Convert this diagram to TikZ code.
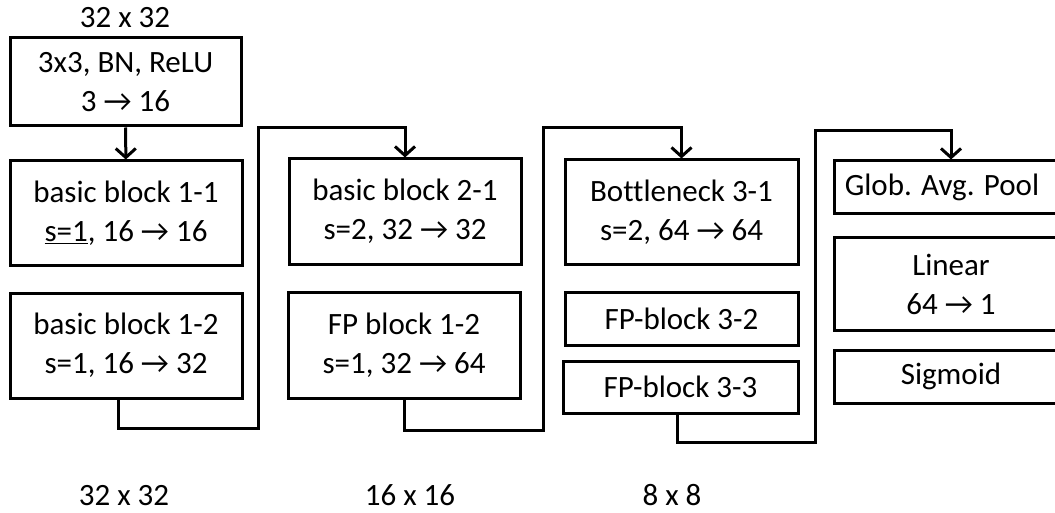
\documentclass[tikz,border=0pt]{standalone}
\usepackage{fontspec}
\setmainfont{Carlito}[Ligatures={NoCommon}]
\usetikzlibrary{arrows.meta,calc}
\begin{document}
\begin{tikzpicture}[x=1pt,y=-1pt,
  blk/.style={draw=black,line width=3pt,fill=white,align=center,inner sep=0pt,
    font=\fontsize{31}{39}\selectfont},
  conn/.style={line width=3pt,line join=miter},
  arr/.style={conn,-{Straight Barb[length=9pt,width=20pt,line width=3pt]}},
  lbl/.style={font=\fontsize{31}{37}\selectfont,inner sep=0pt}]
\useasboundingbox (0,0) rectangle (1055,513);
\clip (0,0) rectangle (1055,513);
\node[lbl] (t0) at (125,18) {32 x 32};
\node[blk,minimum width=231pt,minimum height=88pt] (init) at (125.5,82) {3x3, BN, ReLU\\3 → 16};
\node[blk,minimum width=232pt,minimum height=104pt] (b11) at (126,213) {basic block 1-1\\\underline{s=1}, 16 → 16};
\node[blk,minimum width=232pt,minimum height=105pt] (b12) at (126,345.5) {basic block 1-2\\s=1, 16 → 32};
\node[blk,minimum width=232pt,minimum height=105pt] (b21) at (405,211.5) {basic block 2-1\\s=2, 32 → 32};
\node[blk,minimum width=232pt,minimum height=106pt] (b22) at (404,345) {FP block 1-2\\s=1, 32 → 64};
\node[blk,minimum width=233pt,minimum height=104pt] (b31) at (681.5,212) {Bottleneck 3-1\\s=2, 64 → 64};
\node[blk,minimum width=233pt,minimum height=53pt] (b32) at (681.5,318.5) {FP-block 3-2};
\node[blk,minimum width=235pt,minimum height=52pt] (b33) at (680.5,387) {FP-block 3-3};
\node[blk,minimum width=234pt,minimum height=53pt] (glob) at (951,187.5) {\hspace*{-18pt}Glob. Avg. Pool};
\node[blk,minimum width=234pt,minimum height=92pt] (lin) at (951,284) {Linear\\64 → 1};
\node[blk,minimum width=234pt,minimum height=53pt] (sig) at (951,376.5) {Sigmoid};
\node[lbl,anchor=base] (s1) at (124,505) {32 x 32};
\node[lbl,anchor=base] (s2) at (410,505) {16 x 16};
\node[lbl,anchor=base] (s3) at (672,505) {8 x 8};
\coordinate (k1a) at (258,428);
\coordinate (k1b) at (258,128);
\coordinate (k2a) at (543,430);
\coordinate (k2b) at (543,128);
\coordinate (k3a) at (815,442);
\coordinate (k3b) at (815,131);
\draw[arr] (init) -- (b11);
\draw[arr] ([xshift=-8pt]b12.south) |- (k1a) -- (k1b) -| (b21.north);
\draw[arr] (b22.south) |- (k2a) -- (k2b) -| (b31.north);
\draw[arr] ([xshift=-3.5pt]b33.south) |- (k3a) -- (k3b) -| (glob.north);
\end{tikzpicture}
\end{document}
